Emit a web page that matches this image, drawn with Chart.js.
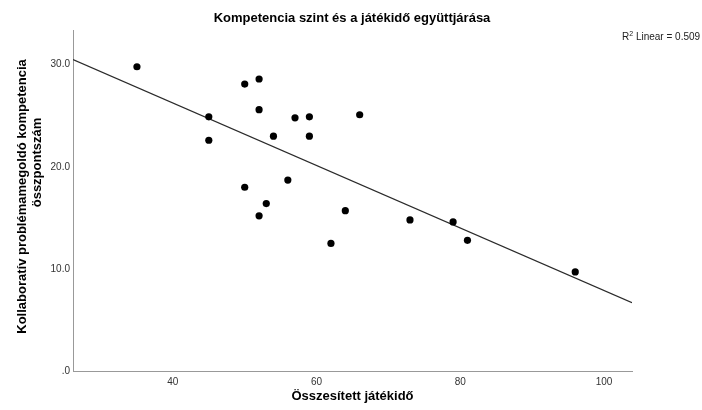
<!DOCTYPE html>
<html lang="hu">
<head>
<meta charset="utf-8">
<title>Kompetencia szint és a játékidő együttjárása</title>
<script src="https://cdn.jsdelivr.net/npm/chart.js@4.4.1/dist/chart.umd.min.js"></script>
<style>
  html, body { margin: 0; padding: 0; background: #fff; }
  #wrap { width: 702px; height: 410px; }
</style>
</head>
<body>
<div id="wrap"><canvas id="chart" width="702" height="410"></canvas></div>
<script>
// Összesített játékidő (x) és kompetencia összpontszám (y) diákonként
const playTime = [35, 45, 45, 50, 52, 52, 57, 59, 66, 54, 59, 56, 50, 53, 52, 64, 62, 73, 79, 81, 96];
const scores   = [29.8, 24.9, 22.6, 28.1, 28.6, 25.6, 24.8, 24.9, 25.1, 23.0, 23.0, 18.7, 18.0, 16.4, 15.2, 15.7, 12.5, 14.8, 14.6, 12.8, 9.7];

const xTicks = [40, 60, 80, 100];
const yTicks = [0, 10, 20, 30];
const xRange = [26.1, 103.9];
const yRange = [0, 33.4];

const titleText = 'Kompetencia szint és a játékidő együttjárása';
const xTitle = 'Összesített játékidő';
const yTitleLines = ['Kollaboratív problémamegoldó kompetencia', 'összpontszám'];
const r2Text = ['R', '2', ' Linear = 0.509'];

const FONT = '"Liberation Sans", Arial, sans-serif';

// least-squares fit through the points
function linearFit(xs, ys) {
  const n = xs.length;
  const mx = xs.reduce((a, b) => a + b, 0) / n;
  const my = ys.reduce((a, b) => a + b, 0) / n;
  let sxy = 0, sxx = 0;
  for (let i = 0; i < n; i++) {
    sxy += (xs[i] - mx) * (ys[i] - my);
    sxx += (xs[i] - mx) * (xs[i] - mx);
  }
  const slope = sxy / sxx;
  return { slope, intercept: my - slope * mx };
}
const fit = linearFit(playTime, scores);
const fitLine = xRange.map(x => ({ x, y: fit.intercept + fit.slope * x }));

const points = playTime.map((x, i) => ({ x, y: scores[i] }));

// chart title, vertical axis title and the R² note
const extraText = {
  id: 'extraText',
  afterDraw(chart) {
    const ctx = chart.ctx;
    const area = chart.chartArea;

    ctx.save();
    ctx.fillStyle = '#000';
    ctx.font = 'bold 13px ' + FONT;
    ctx.textAlign = 'center';
    ctx.textBaseline = 'middle';
    ctx.fillText(titleText, 352, 18);
    ctx.restore();

    ctx.save();
    ctx.fillStyle = '#000';
    ctx.font = 'bold 13px ' + FONT;
    ctx.textAlign = 'center';
    ctx.textBaseline = 'middle';
    ctx.translate(22, (area.top + area.bottom) / 2 - 4);
    ctx.rotate(-Math.PI / 2);
    ctx.fillText(yTitleLines[0], 0, 0);
    ctx.fillText(yTitleLines[1], 34, 15);
    ctx.restore();

    ctx.save();
    ctx.fillStyle = '#222';
    ctx.textBaseline = 'alphabetic';
    ctx.textAlign = 'left';
    let x = 622;
    const base = 40;
    ctx.font = '10px ' + FONT;
    ctx.fillText(r2Text[0], x, base);
    x += ctx.measureText(r2Text[0]).width;
    ctx.font = '7px ' + FONT;
    ctx.fillText(r2Text[1], x, base - 4);
    x += ctx.measureText(r2Text[1]).width;
    ctx.font = '10px ' + FONT;
    ctx.fillText(r2Text[2], x, base);
    ctx.restore();
  }
};

new Chart(document.getElementById('chart'), {
  type: 'scatter',
  data: {
    datasets: [
      {
        label: 'Megfigyelt',
        data: points,
        backgroundColor: '#000',
        borderWidth: 0,
        pointRadius: 3.6,
        pointHoverRadius: 3.6,
        order: 1
      },
      {
        label: 'Linear',
        data: fitLine,
        showLine: true,
        borderColor: '#2b2b2b',
        borderWidth: 1.2,
        pointRadius: 0,
        fill: false,
        order: 2
      }
    ]
  },
  options: {
    responsive: false,
    animation: false,
    devicePixelRatio: 1,
    layout: { padding: { left: 0, right: 70, top: 30, bottom: 0 } },
    plugins: {
      legend: { display: false },
      tooltip: { enabled: false },
      title: { display: false }
    },
    scales: {
      x: {
        type: 'linear',
        min: xRange[0],
        max: xRange[1],
        afterBuildTicks: s => { s.ticks = xTicks.map(v => ({ value: v })); },
        afterFit: s => { s.height = 39; },
        grid: { display: false, drawTicks: false },
        border: { display: true, color: '#999', width: 1 },
        ticks: {
          color: '#333',
          padding: 5,
          font: { family: FONT, size: 10 },
          callback: v => String(v)
        },
        title: {
          display: true,
          text: xTitle,
          color: '#000',
          font: { family: FONT, size: 13, weight: 'bold', lineHeight: 1.2 },
          padding: { top: 2, bottom: 6 }
        }
      },
      y: {
        type: 'linear',
        min: yRange[0],
        max: yRange[1],
        afterBuildTicks: s => { s.ticks = yTicks.map(v => ({ value: v })); },
        afterFit: s => { s.width = 73; },
        grid: { display: false, drawTicks: false },
        border: { display: true, color: '#999', width: 1 },
        ticks: {
          color: '#333',
          padding: 3,
          font: { family: FONT, size: 10 },
          callback: v => (v === 0 ? '.0' : v.toFixed(1))
        }
      }
    }
  },
  plugins: [extraText]
});
</script>
</body>
</html>
